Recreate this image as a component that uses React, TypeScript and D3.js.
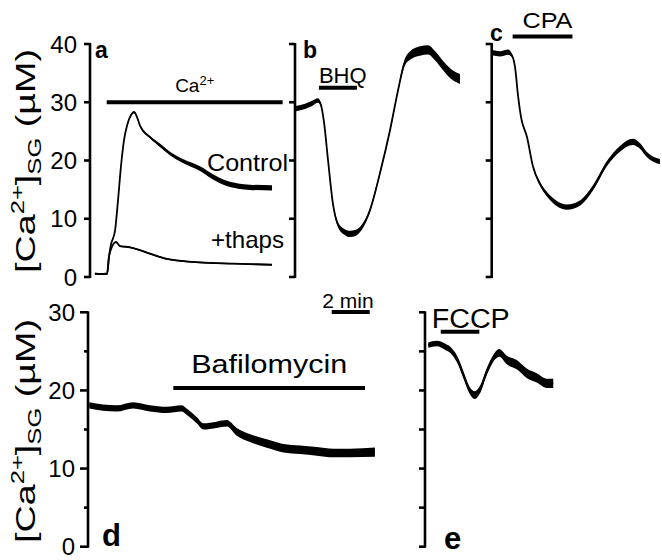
import React from "react";
import * as d3 from "d3";

const FONT = "'Liberation Sans', Arial, Helvetica, sans-serif";
const PX_PER_MIN = 19;

// time in minutes from each panel's axis, value in uM, s = half width of the noise band
const aCtrlT = [0.26, 0.53, 0.9, 1.0, 1.1, 1.32, 1.47, 1.63, 1.79, 1.95, 2.16, 2.32, 2.47, 2.63, 3.16, 3.68, 4.21, 4.89, 5.79, 6.47, 7.16, 7.79, 8.42, 9.58];
const aCtrlV = [0.6, 0.5, 0.6, 3.5, 5.5, 8, 13, 19, 23.5, 26, 27.8, 28.3, 27.5, 26, 24, 22.6, 21.2, 19.9, 18.6, 17.2, 16.1, 15.6, 15.4, 15.3];
const aCtrlS = [0.1, 0.1, 0.1, 0.1, 0.1, 0.1, 0.1, 0.1, 0.1, 0.15, 0.2, 0.2, 0.2, 0.2, 0.2, 0.3, 0.3, 0.35, 0.4, 0.45, 0.45, 0.45, 0.45, 0.45];

const aThapsT = [0.26, 0.9, 1.0, 1.16, 1.37, 1.58, 2.1, 2.63, 3.16, 4.05, 5.0, 5.79, 7.53, 9.58];
const aThapsV = [0.5, 0.5, 3.5, 5.2, 6.0, 5.3, 5.1, 4.6, 4.0, 3.1, 2.7, 2.5, 2.3, 2.1];
const aThapsS = [0.12, 0.12, 0.08, 0.1, 0.12, 0.12, 0.12, 0.12, 0.12, 0.12, 0.12, 0.12, 0.12, 0.12];

const bT = [0.05, 0.53, 0.9, 1.21, 1.37, 1.53, 1.74, 2.0, 2.26, 2.58, 2.89, 3.21, 3.53, 3.95, 4.47, 5.0, 5.42, 5.74, 6.05, 6.58, 7.0, 7.37, 7.74, 8.16, 8.68];
const bV = [28.9, 29.3, 29.8, 30.3, 29.5, 26.5, 20, 12.5, 9, 7.8, 7.4, 7.6, 8.6, 11.5, 17.8, 25.2, 32, 36.5, 38, 38.8, 39, 38, 36.5, 35, 34];
const bS = [0.45, 0.45, 0.45, 0.4, 0.3, 0.2, 0.2, 0.25, 0.4, 0.5, 0.55, 0.5, 0.45, 0.35, 0.3, 0.3, 0.35, 0.55, 0.7, 0.8, 0.8, 0.8, 0.8, 0.85, 0.85];

const cT = [0.02, 0.44, 0.86, 1.07, 1.23, 1.39, 1.54, 1.86, 2.17, 2.54, 2.96, 3.43, 3.96, 4.64, 5.33, 6.07, 6.75, 7.43, 7.8, 8.17, 8.85];
const cV = [38.5, 38.3, 38.6, 38, 36, 31, 27.5, 24, 19, 16, 14, 12.6, 12, 12.7, 15.3, 19.5, 22, 23.2, 22.5, 21, 19.8];
const cS = [0.45, 0.45, 0.45, 0.3, 0.15, 0.15, 0.15, 0.2, 0.2, 0.35, 0.4, 0.45, 0.45, 0.45, 0.45, 0.45, 0.5, 0.55, 0.5, 0.45, 0.45];

const dT = [0.07, 1.51, 2.38, 3.26, 4.14, 4.93, 5.19, 5.72, 6.07, 6.77, 7.3, 7.83, 8.53, 9.41, 10.28, 11.16, 12.04, 12.91, 13.79, 15.1];
const dV = [18.1, 17.7, 18.1, 17.7, 17.5, 17.7, 17.3, 16.2, 15.4, 15.6, 15.8, 14.7, 13.9, 13.2, 12.6, 12.4, 12.2, 12.0, 12.0, 12.1];
const dS = [0.4, 0.4, 0.4, 0.4, 0.4, 0.4, 0.4, 0.4, 0.4, 0.4, 0.4, 0.5, 0.5, 0.55, 0.55, 0.55, 0.55, 0.55, 0.55, 0.6];

const eT = [0.17, 0.62, 1.05, 1.41, 1.75, 2.02, 2.33, 2.63, 2.89, 3.25, 3.59, 3.91, 4.3, 4.83, 5.35, 5.88, 6.41, 6.75];
const eV = [25.8, 26, 25.6, 25, 23.7, 22, 20.1, 19.4, 20.1, 22.4, 24.1, 24.8, 23.9, 23.3, 22.2, 21.6, 20.9, 20.9];
const eS = [0.35, 0.35, 0.4, 0.4, 0.45, 0.45, 0.45, 0.5, 0.5, 0.45, 0.45, 0.5, 0.55, 0.6, 0.6, 0.6, 0.6, 0.6];

// drug application bars: [start min, end min, level uM]
const caBar = [0.88, 10.14, 30];
const bhqBar = [1.26, 3.26, 32.5];
const cpaBar = [1.1, 4.25, 41.3];
const bafBar = [4.49, 14.58, 20.3];
const fccpBar = [0.83, 2.86, 27.5];

const topTicks = [0, 10, 20, 30, 40];
const dMajor = [0, 10, 20, 30];
const dMinor = [5, 15, 25];
const eTicks = [0, 5, 10, 15, 20, 25, 30];

const yTop = d3.scaleLinear().domain([0, 40]).range([277, 44]);
const yBot = d3.scaleLinear().domain([0, 30]).range([546.7, 312.3]);
const xAt = (x0: number) => d3.scaleLinear().domain([0, 10]).range([x0, x0 + 10 * PX_PER_MIN]);

const xa = xAt(90), xb = xAt(295), xc = xAt(491.7), xd = xAt(88), xe = xAt(425);

function Trace({ t, v, s, x, y }: any) {
  const pts = t.map((tt: number, i: number) => ({ t: tt, v: v[i], s: s[i] }));
  const area = d3.area<any>().x(d => x(d.t)).y0(d => y(d.v - d.s)).y1(d => y(d.v + d.s)).curve(d3.curveMonotoneX);
  const line = d3.line<any>().x(d => x(d.t)).y(d => y(d.v)).curve(d3.curveMonotoneX);
  return (
    <g>
      <path d={area(pts) || ""} fill="#000" />
      <path d={line(pts) || ""} fill="none" stroke="#000" strokeWidth={1.8} strokeLinejoin="round" />
    </g>
  );
}

function Axis({ x, y, ticks, minor = [], labels = false, len = 6 }: any) {
  const [lo, hi] = y.domain();
  return (
    <g stroke="#000" strokeWidth={2.6}>
      <line x1={x} x2={x} y1={y(hi) - 1} y2={y(lo) + 1} />
      {ticks.map((t: number) => <line key={t} x1={x - len} x2={x} y1={y(t)} y2={y(t)} />)}
      {minor.map((t: number) => <line key={"m" + t} x1={x - len / 2} x2={x} y1={y(t)} y2={y(t)} />)}
      {labels && ticks.map((t: number) => (
        <text key={"l" + t} x={x - 13} y={y(t)} dy="0.36em" textAnchor="end" stroke="none" fill="#000" fontSize={24}>{t}</text>
      ))}
    </g>
  );
}

function Bar({ b, x, y }: any) {
  return <line x1={x(b[0])} x2={x(b[1])} y1={y(b[2])} y2={y(b[2])} stroke="#000" strokeWidth={4} />;
}

function YLabel({ cy }: any) {
  return (
    <text transform={`translate(35,${cy}) rotate(-90)`} textAnchor="middle" fontSize={28} fill="#000"
      textLength={224} lengthAdjust="spacingAndGlyphs">
      [Ca<tspan fontSize={19} dy={-11}>2+</tspan><tspan dy={11}>]</tspan><tspan fontSize={19} dy={6}>SG</tspan><tspan dy={-6}> (µM)</tspan>
    </text>
  );
}

export default function App() {
  const mid = (b: number[], x: any) => (x(b[0]) + x(b[1])) / 2;
  return (
    <svg width={662} height={560} style={{ position: "absolute", left: 0, top: 0, background: "#fff" }} fontFamily={FONT}>
      <rect width={662} height={560} fill="#fff" />
      <YLabel cy={161} />
      <YLabel cy={431} />

      {/* panel a */}
      <Axis x={90} y={yTop} ticks={topTicks} labels />
      <text x={95} y={58} fontSize={23} fontWeight="bold">a</text>
      <Bar b={caBar} x={xa} y={yTop} />
      <text x={mid(caBar, xa)} y={yTop(caBar[2]) - 10} textAnchor="middle" fontSize={19}>
        Ca<tspan fontSize={13} dy={-7}>2+</tspan>
      </text>
      <Trace t={aCtrlT} v={aCtrlV} s={aCtrlS} x={xa} y={yTop} />
      <Trace t={aThapsT} v={aThapsV} s={aThapsS} x={xa} y={yTop} />
      <text x={207} y={170.7} fontSize={24} textLength={81} lengthAdjust="spacingAndGlyphs">Control</text>
      <text x={211} y={248} fontSize={24} textLength={73} lengthAdjust="spacingAndGlyphs">+thaps</text>

      {/* panel b */}
      <Axis x={295} y={yTop} ticks={topTicks} />
      <text x={303} y={58} fontSize={23} fontWeight="bold">b</text>
      <Bar b={bhqBar} x={xb} y={yTop} />
      <text x={xb(bhqBar[0])} y={yTop(bhqBar[2]) - 5} fontSize={22}>BHQ</text>
      <Trace t={bT} v={bV} s={bS} x={xb} y={yTop} />

      {/* panel c */}
      <Axis x={491.7} y={yTop} ticks={topTicks} />
      <text x={490} y={41} fontSize={23} fontWeight="bold">c</text>
      <Bar b={cpaBar} x={xc} y={yTop} />
      <text x={xc(cpaBar[1])} y={28} textAnchor="end" fontSize={22} textLength={50} lengthAdjust="spacingAndGlyphs">CPA</text>
      <Trace t={cT} v={cV} s={cS} x={xc} y={yTop} />

      {/* scale bar */}
      <line x1={331.7} x2={331.7 + 2 * PX_PER_MIN} y1={312} y2={312} stroke="#000" strokeWidth={4} />
      <text x={348} y={308} textAnchor="middle" fontSize={21}>2 min</text>

      {/* panel d */}
      <Axis x={88} y={yBot} ticks={dMajor} minor={dMinor} labels len={8} />
      <text x={102} y={546} fontSize={31} fontWeight="bold">d</text>
      <Bar b={bafBar} x={xd} y={yBot} />
      <text x={mid(bafBar, xd)} y={yBot(bafBar[2]) - 15} textAnchor="middle" fontSize={25}
        textLength={156} lengthAdjust="spacingAndGlyphs">Bafilomycin</text>
      <Trace t={dT} v={dV} s={dS} x={xd} y={yBot} />

      {/* panel e */}
      <Axis x={425} y={yBot} ticks={eTicks} />
      <text x={444} y={549} fontSize={31} fontWeight="bold">e</text>
      <Bar b={fccpBar} x={xe} y={yBot} />
      <text x={431.7} y={328} fontSize={27} textLength={78} lengthAdjust="spacingAndGlyphs">FCCP</text>
      <Trace t={eT} v={eV} s={eS} x={xe} y={yBot} />
    </svg>
  );
}
